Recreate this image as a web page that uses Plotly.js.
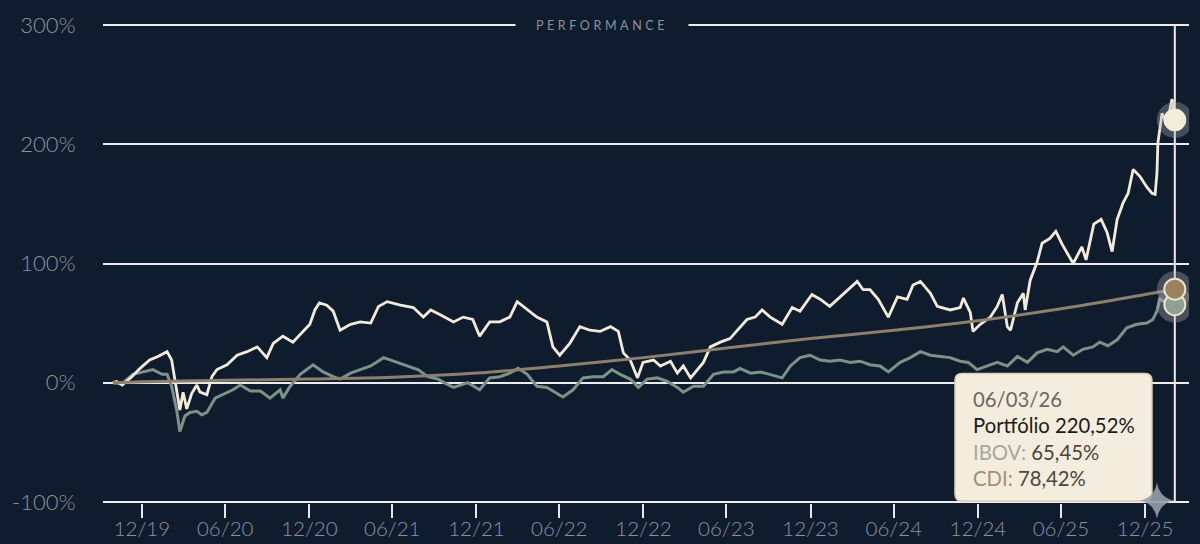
<!DOCTYPE html>
<html><head><meta charset="utf-8">
<script src="https://cdn.plot.ly/plotly-3.0.1.min.js"></script>
<style>html,body{margin:0;padding:0;background:#0f1c2e;} #chart{width:1200px;height:544px;}</style>
</head><body><div id="chart"></div>
<script>
const portDates = ['2019-10-29','2019-11-06','2019-11-18','2019-12-09','2019-12-27','2020-01-17','2020-02-04','2020-02-24','2020-03-05','2020-03-12','2020-03-23','2020-03-30','2020-04-07','2020-04-18','2020-04-29','2020-05-06','2020-05-21','2020-06-01','2020-06-12','2020-07-04','2020-07-26','2020-08-17','2020-09-08','2020-09-29','2020-10-13','2020-11-03','2020-11-25','2020-12-17','2021-01-01','2021-01-12','2021-01-22','2021-02-07','2021-02-21','2021-03-08','2021-03-31','2021-04-21','2021-05-14','2021-05-31','2021-06-19','2021-07-18','2021-08-15','2021-09-06','2021-09-22','2021-10-13','2021-11-11','2021-12-02','2021-12-23','2022-01-07','2022-01-29','2022-02-20','2022-03-14','2022-03-30','2022-04-21','2022-05-12','2022-06-03','2022-06-16','2022-07-01','2022-07-23','2022-08-14','2022-09-05','2022-09-27','2022-10-20','2022-11-06','2022-11-17','2022-12-02','2022-12-18','2022-12-30','2023-01-22','2023-02-06','2023-02-28','2023-03-15','2023-03-28','2023-04-13','2023-04-28','2023-05-11','2023-05-26','2023-06-17','2023-07-08','2023-07-30','2023-08-14','2023-09-01','2023-09-16','2023-10-04','2023-10-30','2023-11-21','2023-12-08','2024-01-03','2024-01-21','2024-02-11','2024-03-04','2024-03-27','2024-04-11','2024-04-24','2024-05-09','2024-05-27','2024-06-18','2024-07-08','2024-07-29','2024-08-11','2024-08-27','2024-09-18','2024-10-03','2024-10-31','2024-11-22','2024-11-29','2024-12-14','2024-12-20','2025-01-05','2025-01-27','2025-02-11','2025-02-22','2025-03-05','2025-03-12','2025-03-27','2025-04-09','2025-04-13','2025-04-24','2025-05-09','2025-05-20','2025-06-06','2025-06-19','2025-07-03','2025-07-27','2025-08-15','2025-08-24','2025-09-10','2025-09-26','2025-10-09','2025-10-20','2025-10-31','2025-11-13','2025-11-24','2025-12-05','2025-12-20','2026-01-04','2026-01-15','2026-01-22','2026-01-26','2026-01-28','2026-02-06','2026-02-17','2026-02-28','2026-03-06'];
const portVals = [0,1,-2,5,12,19,22,26,19,3,-23,-8,-22,-9,-2,-8,-10,5,11,15,23,26,30,21,33,39,34,43,49,61,67,65,60,44,49,51,50,64,68,65,63,55,61,57,51,55,53,39,51,51,55,68,61,55,51,30,23,33,47,44,43,47,43,25,19,4,17,19,14,18,8,14,4,11,17,30,34,37,47,53,55,61,55,49,63,60,74,70,64,72,80,85,78,78,70,55,72,70,82,85,75,64,61,63,71,59,43,49,55,64,74,47,44,67,75,61,86,101,117,121,127,116,100,114,103,133,137,126,110,137,151,159,179,173,164,159,158,176,201,226,218,238,220.52];

const ibovDates = ['2019-10-29','2019-11-17','2019-12-11','2020-01-02','2020-01-24','2020-02-13','2020-02-24','2020-03-05','2020-03-16','2020-03-23','2020-04-03','2020-04-14','2020-04-29','2020-05-10','2020-05-21','2020-06-08','2020-06-25','2020-07-17','2020-08-02','2020-08-24','2020-09-15','2020-10-06','2020-10-28','2020-11-03','2020-11-19','2020-12-11','2021-01-08','2021-01-30','2021-02-21','2021-03-08','2021-03-31','2021-04-21','2021-05-14','2021-06-11','2021-07-03','2021-07-25','2021-08-25','2021-09-16','2021-10-08','2021-10-21','2021-11-11','2021-12-12','2022-01-07','2022-01-29','2022-02-20','2022-03-14','2022-04-01','2022-04-21','2022-05-12','2022-06-03','2022-06-21','2022-07-08','2022-07-30','2022-08-21','2022-09-12','2022-10-04','2022-10-23','2022-11-10','2022-12-02','2022-12-20','2023-01-08','2023-01-30','2023-02-21','2023-03-15','2023-03-28','2023-04-19','2023-05-11','2023-06-02','2023-06-24','2023-07-16','2023-07-30','2023-08-22','2023-09-13','2023-10-04','2023-10-30','2023-11-17','2023-12-08','2023-12-30','2024-01-21','2024-02-11','2024-03-04','2024-03-27','2024-04-17','2024-05-09','2024-05-31','2024-06-18','2024-07-14','2024-08-05','2024-08-27','2024-09-18','2024-10-10','2024-10-31','2024-11-22','2024-12-10','2024-12-29','2025-01-20','2025-02-11','2025-03-05','2025-03-27','2025-04-18','2025-05-09','2025-05-31','2025-06-22','2025-07-05','2025-07-27','2025-08-17','2025-09-08','2025-09-23','2025-10-11','2025-10-31','2025-11-21','2025-12-13','2026-01-04','2026-01-17','2026-01-26','2026-02-01','2026-02-12','2026-03-06'];
const ibovVals = [0,-1,7,9,11,7,7,-3,-23,-41,-28,-25,-24,-27,-25,-13,-10,-6,-2,-7,-7,-13,-6,-13,-3,7,15,9,5,3,8,11,14,21,18,15,11,5,3,0,-4,0,-6,4,5,8,12,7,-3,-4,-8,-12,-6,4,5,5,11,7,3,-4,3,4,1,-4,-8,-3,-3,7,9,9,12,8,9,7,4,14,21,23,19,18,19,17,18,15,14,9,17,21,26,23,22,21,18,17,11,14,17,14,22,17,25,28,26,30,23,28,30,34,31,36,46,49,50,53,60,70,68,65.45];

const cdiDates = ['2019-10-29','2019-12-31','2020-06-30','2020-12-31','2021-06-30','2021-12-31','2022-06-30','2022-12-31','2023-06-30','2023-12-31','2024-06-30','2024-12-31','2025-06-30','2025-12-31','2026-03-06'];
const cdiVals = [0,0.8,2,3,4.5,8,14,21,29,37,44,52,62,74,78.42];

const tickDates = ['2019-12-31','2020-06-30','2020-12-31','2021-06-30','2021-12-31','2022-06-30','2022-12-31','2023-06-30','2023-12-31','2024-06-30','2024-12-31','2025-06-30','2025-12-31'];
const tickLabels = ['12/19','06/20','12/20','06/21','12/21','06/22','12/22','06/23','12/23','06/24','12/24','06/25','12/25'];
const yTicks = [-100,0,100,200,300];
const tooltipDate = '06/03/26';

const BG = '#0f1c2e';
const C_PORT = '#f3ebda', C_IBOV = '#7b9387', C_CDI = '#8c7f6c';
const last = a => a[a.length-1];
const fmt = v => v.toFixed(2).replace('.', ',') + '%';

const traces = [
  {x: ibovDates, y: ibovVals, mode:'lines', line:{color:C_IBOV, width:3}},
  {x: portDates, y: portVals, mode:'lines', line:{color:C_PORT, width:2.8}},
  {x: cdiDates, y: cdiVals, mode:'lines', line:{color:C_CDI, width:3, shape:'spline', smoothing:1}},
  {x:[last(ibovDates), last(cdiDates), last(portDates)], y:[last(ibovVals), last(cdiVals), last(portVals)], mode:'markers', marker:{size:36, color:'rgba(175,175,172,0.35)', line:{width:0}}},
  {x:[last(ibovDates)], y:[last(ibovVals)], mode:'markers', marker:{size:21, color:'#8da092', line:{color:'#ece3cf', width:2}}},
  {x:[last(cdiDates)], y:[last(cdiVals)], mode:'markers', marker:{size:21, color:'#9b825f', line:{color:'#ece3cf', width:2}}},
  {x:[last(portDates)], y:[last(portVals)], mode:'markers', marker:{size:22, color:'#f4ecdb', line:{color:'#f4ecdb', width:1}}}
];

const bx0=0.7845, bx1=0.9659, by0=0.0042, by1=0.2704, rx=0.0065, ry=0.0147;
const boxPath = `M ${bx0+rx},${by1} L ${bx1-rx},${by1} Q ${bx1},${by1} ${bx1},${by1-ry} L ${bx1},${by0+ry} Q ${bx1},${by0} ${bx1-rx},${by0} L ${bx0+rx},${by0} Q ${bx0},${by0} ${bx0},${by0+ry} L ${bx0},${by1-ry} Q ${bx0},${by1} ${bx0+rx},${by1} Z`;
const sx=0.9705, sy=0.0052, sw=0.0157, sh=0.0377, k=0.16;
const starPath = `M ${sx},${sy+sh} Q ${sx+k*sw},${sy+k*sh} ${sx+sw},${sy} Q ${sx+k*sw},${sy-k*sh} ${sx},${sy-sh} Q ${sx-k*sw},${sy-k*sh} ${sx-sw},${sy} Q ${sx-k*sw},${sy+k*sh} ${sx},${sy+sh} Z`;

const tipText = `<span style="color:#6d6860">${tooltipDate}</span><br>` +
  `<span style="color:#1c1b19">Portfólio ${fmt(last(portVals))}</span><br>` +
  `<span style="color:#a2a99e">IBOV:</span> ${fmt(last(ibovVals))}<br>` +
  `<span style="color:#a58f71">CDI:</span> ${fmt(last(cdiVals))}`;

const layout = {
  width:1200, height:544,
  margin:{l:103, r:11, t:24, b:41, pad:0},
  paper_bgcolor:BG, plot_bgcolor:BG,
  showlegend:false, hovermode:false,
  xaxis:{type:'date', range:['2019-10-07','2026-04-06'], tickmode:'array', tickvals:tickDates, ticktext:tickLabels,
    showgrid:false, zeroline:false, showline:false, ticks:'outside', ticklen:14, tickwidth:2, tickcolor:'#e6e6e6',
    ticklabelstandoff:-7,
    tickfont:{family:'Lato', size:20.5, color:'#8a939f', weight:300}},
  yaxis:{range:[-101,301], tickmode:'array', tickvals:yTicks, ticktext:yTicks.map(v=>v+'%'),
    showgrid:true, gridcolor:'#ececec', gridwidth:2, zeroline:false, ticks:'outside', ticklen:22, tickcolor:'rgba(0,0,0,0)',
    tickfont:{family:'Lato', size:22, color:'#8a939f', weight:300}},
  shapes:[
    {type:'line', xref:'x', yref:'y', x0:last(portDates), x1:last(portDates), y0:-100, y1:300, line:{color:'#ececec', width:2}, layer:'below'},
    {type:'path', xref:'paper', yref:'paper', path:boxPath, fillcolor:'#f4eddd', line:{color:'#d9ceb6', width:1.5}, layer:'above'},
    {type:'path', xref:'paper', yref:'paper', path:starPath, fillcolor:'#959eab', line:{width:0}, layer:'above', opacity:0.9}
  ],
  annotations:[
    {xref:'paper', yref:'y', x:0.4595, y:300, text:'PERFORMANCE', showarrow:false, bgcolor:BG, width:166, borderpad:3,
     font:{family:'Lato', size:12.5, color:'#8b929b'}, xanchor:'center', yanchor:'middle'},
    {xref:'paper', yref:'paper', x:0.7993, y:0.134, text:tipText, showarrow:false, align:'left', xanchor:'left', yanchor:'middle',
     font:{family:'Lato', size:20.3, color:'#4b463e'}}
  ]
};

Plotly.newPlot('chart', traces, layout, {displayModeBar:false, staticPlot:true}).then(() => {
  document.querySelectorAll('.annotation-text').forEach(t => {
    if (t.textContent === 'PERFORMANCE') t.style.letterSpacing = '3.6px';
  });
});
</script></body></html>
